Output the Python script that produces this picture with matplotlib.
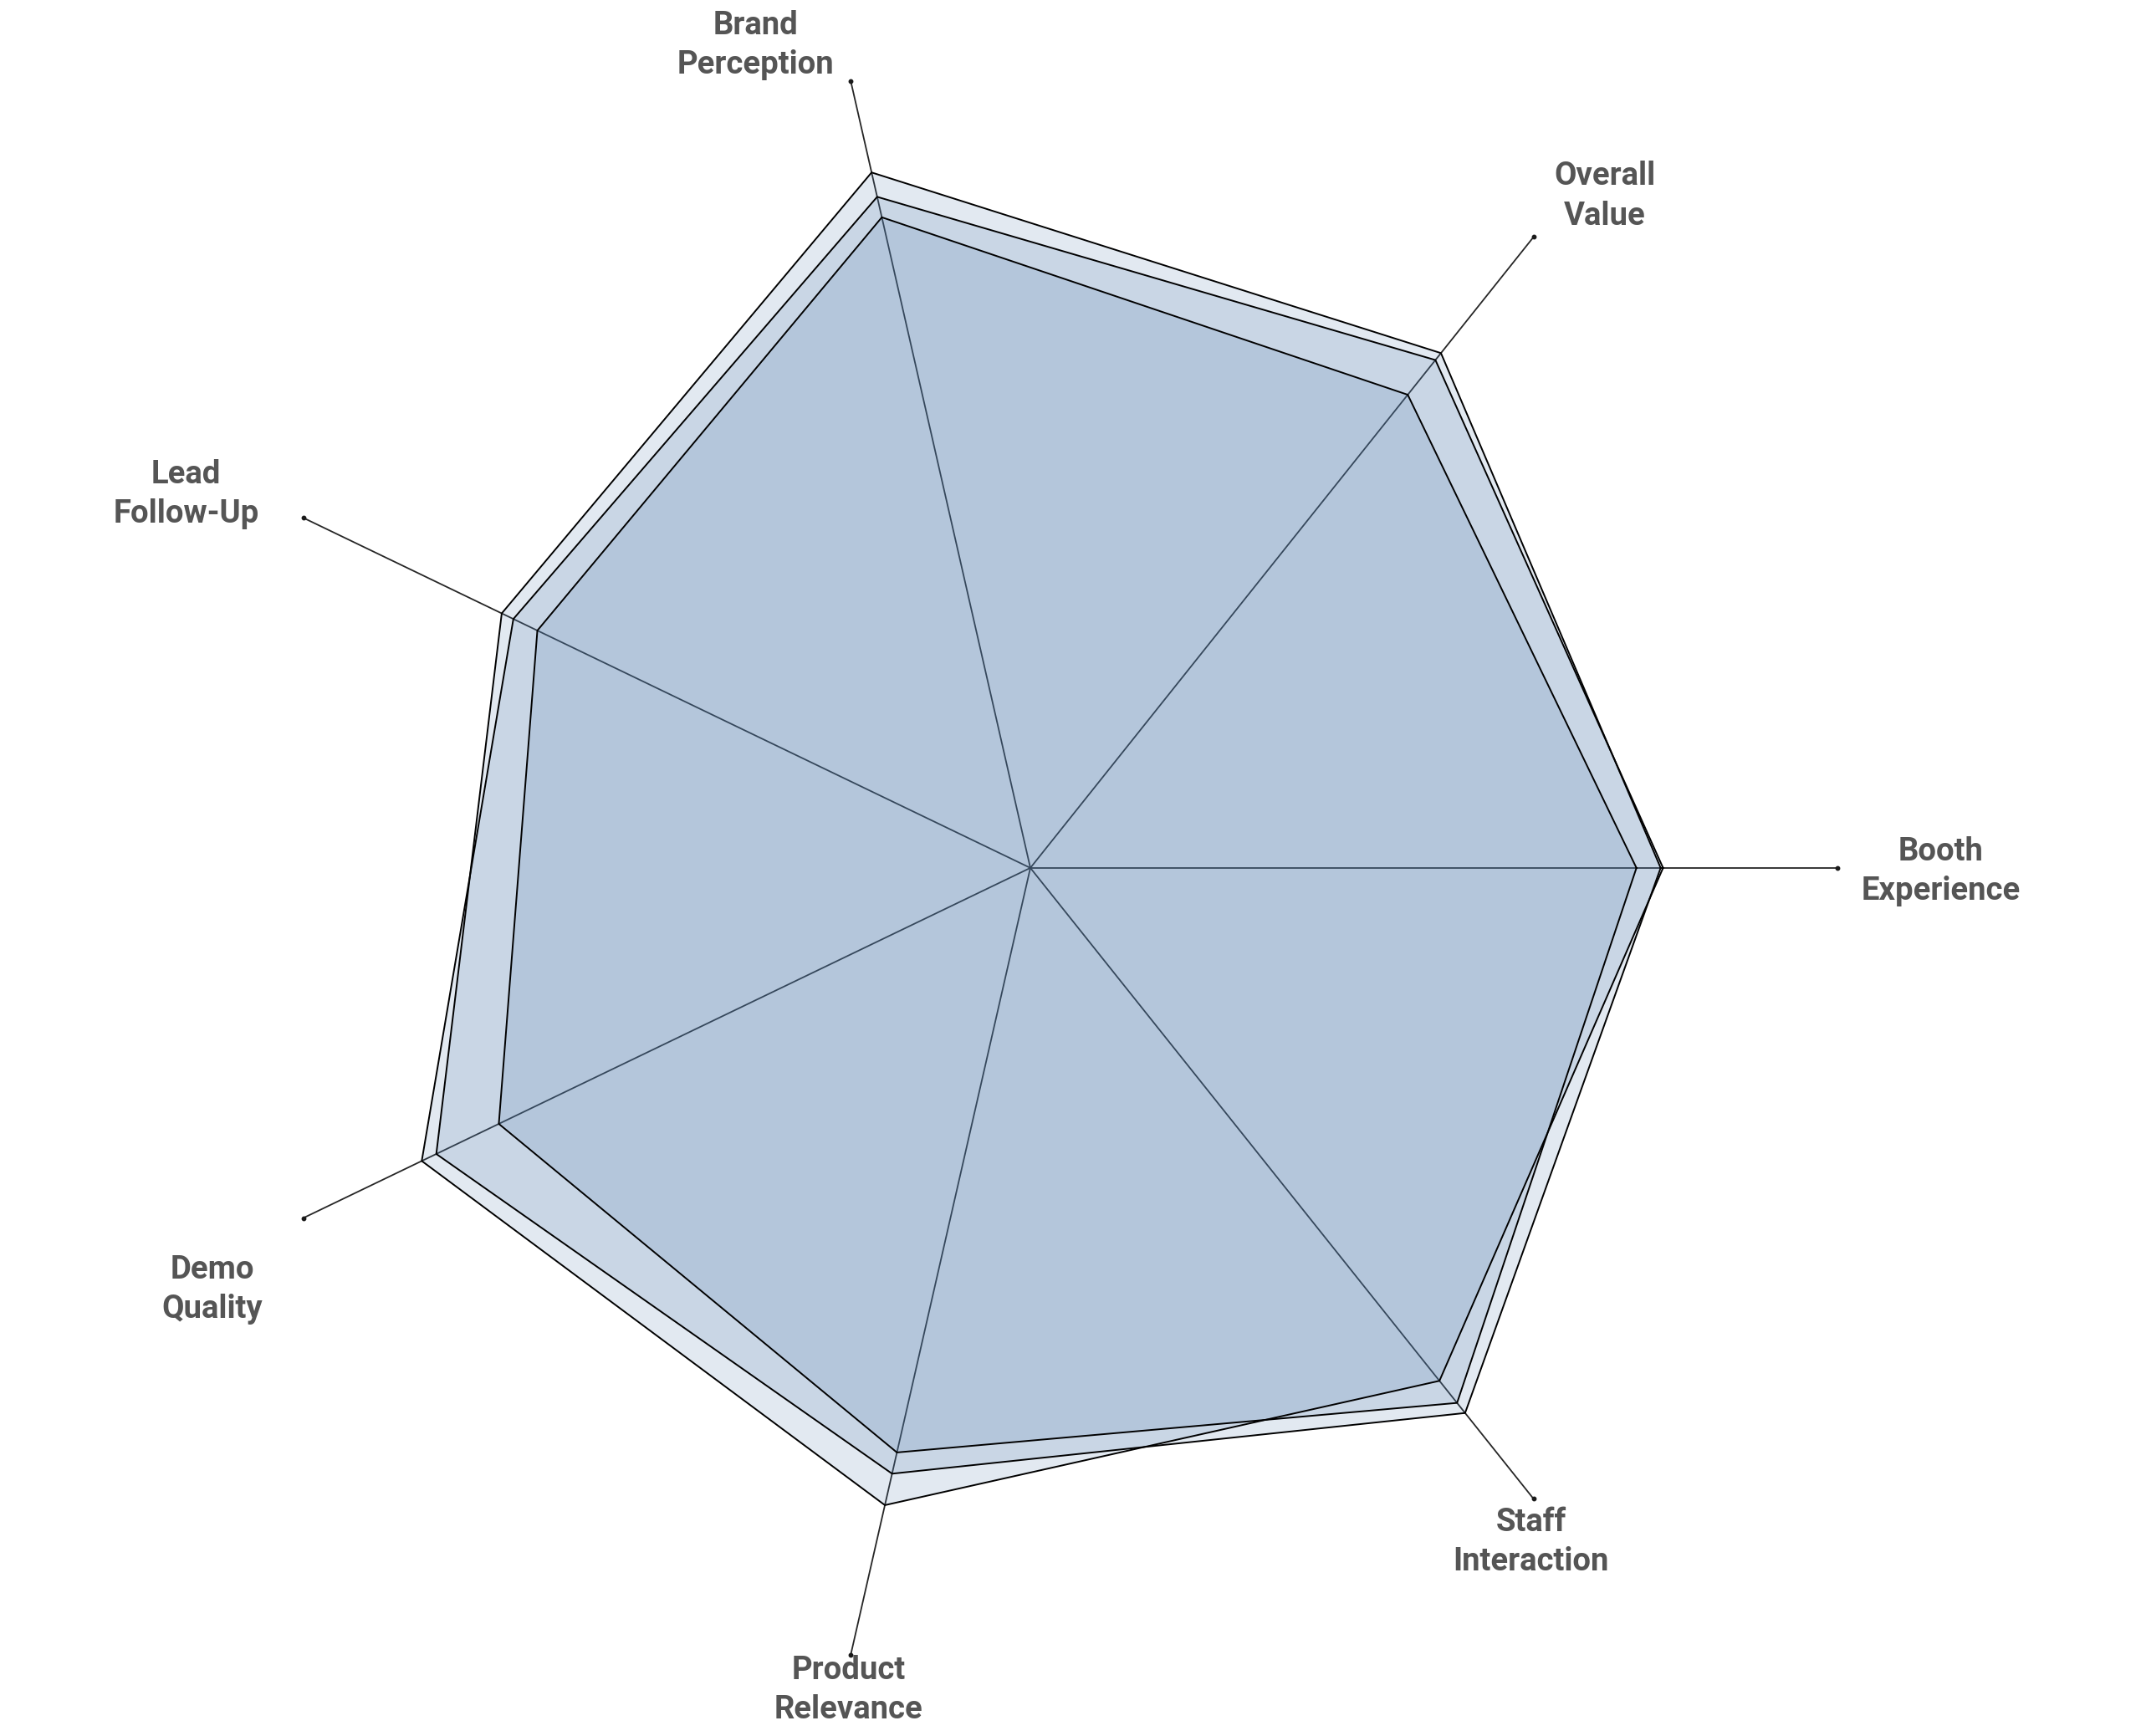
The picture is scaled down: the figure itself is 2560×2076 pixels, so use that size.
#! /usr/bin/env python3
"""
radar chart of trade show feedback, three overlapping response sets
"""

import numpy as np
import matplotlib
matplotlib.use('Agg')
import matplotlib.pyplot as plt

plt.rcParams['font.family'] = ['Roboto', 'DejaVu Sans']

# axes, counterclockwise starting at 3 o'clock
categories = ['Booth\nExperience', 'Overall\nValue', 'Brand\nPerception',
              'Lead\nFollow-Up', 'Demo\nQuality', 'Product\nRelevance',
              'Staff\nInteraction']

# scores on a 0-100 scale
series_a = [75.1, 75.0, 82.7, 67.8, 73.1, 74.3, 84.8]
series_b = [78.4, 80.5, 85.3, 71.1, 83.7, 81.0, 81.3]
series_c = [78.1, 81.6, 88.4, 72.7, 81.7, 77.0, 86.4]

rmax = 100

# label offsets from spoke ends, in pixels
label_offsets = [(124, -4), (85, 49), (-114, 43), (-140, 28),
                 (-109, -85), (-3, -42), (-3, -52)]

fill_color = '#4f7aaa'
text_color = '#555555'


def main():
    fig = plt.figure(figsize=(25.6, 20.76), dpi=100)
    ax = fig.add_axes([0.1043, 0.0352, 0.7539, 0.9297], projection='polar')
    ax.set_ylim(0, rmax)
    ax.grid(False)
    ax.spines['polar'].set_visible(False)
    ax.set_xticks([])
    ax.set_yticks([])
    ax.patch.set_alpha(0)

    n = len(categories)
    angles = np.arange(n) * 2 * np.pi / n

    # spokes with a dot at the end
    for a in angles:
        ax.plot([a, a], [0, rmax], color='#262626', lw=1.3, zorder=1)
        ax.plot([a], [rmax], 'o', ms=3.2, color='#1a1a1a', zorder=1,
                clip_on=False)

    closed = np.append(angles, angles[0])
    for vals in (series_a, series_b, series_c):
        v = np.append(vals, vals[0])
        ax.fill(closed, v, color=fill_color, alpha=0.165, lw=0, zorder=2)
    for vals in (series_a, series_b, series_c):
        v = np.append(vals, vals[0])
        ax.plot(closed, v, color='black', lw=1.4, zorder=3)

    for a, lab, off in zip(angles, categories, label_offsets):
        ax.annotate(lab, xy=(a, rmax), xytext=off,
                    textcoords='offset pixels', ha='center', va='center',
                    fontsize=27.5, fontweight='bold', color=text_color,
                    linespacing=1.35, annotation_clip=False)

    fig.savefig('out.png', dpi=100)
    return None


if __name__ == '__main__':
    main()
